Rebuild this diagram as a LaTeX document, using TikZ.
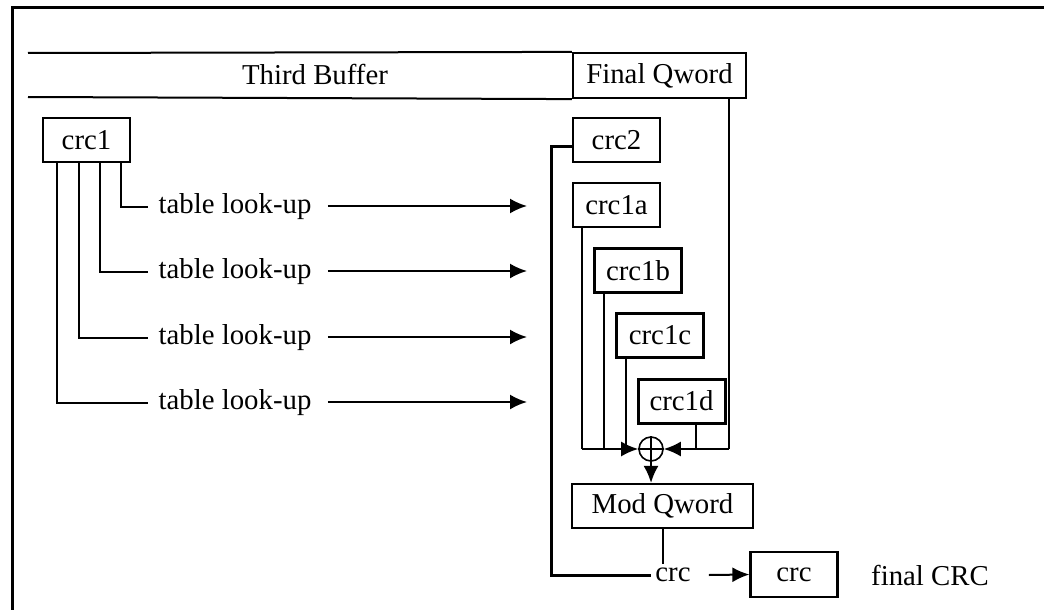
\documentclass[tikz,border=0pt]{standalone}
\usepackage{fontspec}
\setmainfont{Liberation Serif}
\usetikzlibrary{arrows.meta}
\begin{document}
\begin{tikzpicture}[x=0.5pt,y=-0.5pt,
  every node/.style={font=\fontsize{14.4}{17}\selectfont},
  box/.style={draw,line width=1.1pt,minimum width=43.5pt,minimum height=22pt,inner sep=0pt},
  lbl/.style={inner sep=5pt},
  arr/.style={line width=1pt,-{Latex[length=8.5pt,width=7.5pt]}},
  ln/.style={line width=1pt},
  thin/.style={line width=0.55pt}]
\useasboundingbox (0,0) rectangle (1044,610);
% frame
\draw[line width=1.5pt] (12,610) -- (12,7.5) -- (1044,7.5);
% nodes
\node[box,minimum width=86.5pt,minimum height=22.5pt] (fq) at (659.5,75.5) {Final Qword};
\node (tb) at (315,75) {Third Buffer};
\draw[ln] (28,53) -- (fq.north west);
\draw[ln] (28,97) -- (fq.south west);
\node[box,line width=1.4pt] (crc1) at (86.5,140) {crc1};
\node[box] (crc2) at (616.5,140) {crc2};
\node[box] (crc1a) at (616.5,205) {crc1a};
\node[box,line width=1.3pt] (crc1b) at (638,270.5) {crc1b};
\node[box,line width=1.5pt] (crc1c) at (660,335.5) {crc1c};
\node[box,line width=1.5pt] (crc1d) at (681.5,401) {crc1d};
\node[box,minimum width=90.5pt] (modq) at (662.5,506) {Mod Qword};
\node[box,minimum height=22.5pt] (crcb) at (794,574.5) {crc};
\node[lbl,inner sep=2pt] (crct) at (673,575) {crc};
\node (fin) at (930,575) {final CRC};
\node[circle,draw,line width=0.8pt,minimum size=12pt,inner sep=0pt] (xor) at (651,449) {};
\draw[line width=0.8pt] (xor.north) -- (xor.south) (xor.west) -- (xor.east);
% table look-ups
\node[lbl] (t1) at (235,207) {table look-up};
\node[lbl] (t2) at (235,272) {table look-up};
\node[lbl] (t3) at (235,338) {table look-up};
\node[lbl] (t4) at (235,403) {table look-up};
\coordinate (e1) at (527,206);
\coordinate (e2) at (527,271);
\coordinate (e3) at (527,337);
\coordinate (e4) at (527,402);
\draw[ln] (crc1.south -| 121,0) |- (t1.west);
\draw[ln] (crc1.south -| 100,0) |- (t2.west);
\draw[line width=1.2pt] (crc1.south -| 79,0) |- (t3.west);
\draw[line width=1.3pt] (crc1.south -| 57,0) |- (t4.west);
\draw[arr] (t1.east |- e1) ++(6,0) -- (e1);
\draw[arr] (t2.east |- e2) ++(6,0) -- (e2);
\draw[arr] (t3.east |- e3) ++(6,0) -- (e3);
\draw[arr] (t4.east |- e4) ++(6,0) -- (e4);
% crc2 path
\draw[line width=1.5pt] ([yshift=-3.5pt]crc2.west) -- (551,147) -- (551,575) -- (crct.west);
% xor inputs
\draw[thin] (crc1a.south -| 582,0) -- (582,449);
\draw[ln] (crc1b.south -| 604,0) -- (604,449);
\draw[ln] (crc1c.south -| 626,0) -- (626,449);
\draw[arr] (582,449) -- (xor.west);
\draw[thin] (fq.south -| 729,0) -- (729,449);
\draw[ln] (crc1d.south -| 696,0) -- (696,449);
\draw[arr] (729,449) -- (xor.east);
\draw[arr] (xor.south) -- (xor.south |- modq.north);
\draw[ln] (modq.south) -- (modq.south |- crct.north);
\draw[arr] ([xshift=7pt]crct.east) -- (crcb.west);
\end{tikzpicture}
\end{document}
